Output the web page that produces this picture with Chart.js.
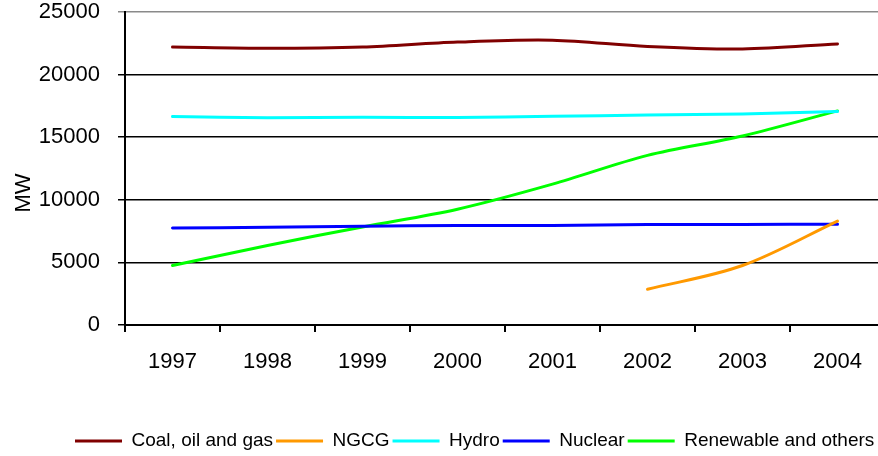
<!DOCTYPE html>
<html>
<head>
<meta charset="utf-8">
<script src="https://cdn.jsdelivr.net/npm/chart.js@4/dist/chart.umd.min.js"></script>
<style>
  html, body { margin: 0; padding: 0; background: #fff; overflow: hidden; }
  #wrap { width: 900px; height: 456px; }
</style>
</head>
<body>
<div id="wrap"><canvas id="c" width="900" height="456"></canvas></div>
<script>
// Installed generating capacity by source, MW
const years = ['1997', '1998', '1999', '2000', '2001', '2002', '2003', '2004'];
const coalOilGas = [22200, 22100, 22200, 22600, 22750, 22250, 22050, 22450];
const ngcg       = [null, null, null, null, null, 2850, 4750, 8300];
const hydro      = [16650, 16560, 16590, 16580, 16670, 16770, 16860, 17050];
const nuclear    = [7750, 7800, 7880, 7950, 7950, 8020, 8030, 8050];
const renewable  = [4750, 6350, 7830, 9250, 11250, 13550, 15100, 17100];
const yMax = 25000;
const yStep = 5000;
const axisTitle = 'MW';

const FONT = '"Liberation Sans", Arial, Helvetica, sans-serif';

function series(label, data, color) {
  return {
    label, data,
    borderColor: color, backgroundColor: color,
    borderWidth: 3, pointRadius: 0, pointHoverRadius: 0,
    tension: 0.33, borderCapStyle: 'round', borderJoinStyle: 'round',
    fill: false, spanGaps: false
  };
}

// Nudges the legend row into place under the plot
const legendPlacement = {
  id: 'legendPlacement',
  afterLayout(chart) {
    const lg = chart.legend;
    if (!lg) return;
    lg.left = 72;
    lg.right = 900;
    lg.top += 4.5;
    lg.bottom += 4.5;
  }
};

new Chart(document.getElementById('c'), {
  type: 'line',
  data: {
    labels: years,
    datasets: [
      series('Coal, oil and gas', coalOilGas, '#800000'),
      series('NGCG', ngcg, '#FF9900'),
      series('Hydro', hydro, '#00FFFF'),
      series('Nuclear', nuclear, '#0000FF'),
      series('Renewable and others', renewable, '#00FF00')
    ]
  },
  plugins: [legendPlacement],
  options: {
    responsive: false,
    animation: false,
    devicePixelRatio: 1,
    events: [],
    layout: { padding: { top: 0, right: 15, bottom: 0, left: 0 } },
    plugins: {
      tooltip: { enabled: false },
      legend: {
        position: 'bottom',
        align: 'start',
        labels: {
          usePointStyle: true,
          pointStyle: 'line',
          pointStyleWidth: 47,
          padding: 3,
          color: '#000',
          font: { family: FONT, size: 19 }
        }
      }
    },
    scales: {
      x: {
        offset: true,
        border: { display: true, color: '#000', width: 2 },
        grid: {
          offset: true,
          drawOnChartArea: false,
          drawTicks: true,
          tickLength: 7,
          color: '#000',
          lineWidth: 2
        },
        ticks: {
          color: '#000',
          padding: 19,
          maxRotation: 0,
          font: { family: FONT, size: 22, lineHeight: 1.0 }
        },
        afterFit(scale) { scale.height = 99; }
      },
      y: {
        min: 0,
        max: yMax,
        border: { display: true, color: '#000', width: 2 },
        grid: {
          drawTicks: true,
          tickLength: 7,
          color: (ctx) => (ctx.tick && ctx.tick.value === yMax ? '#8a8a8a' : '#000'),
          lineWidth: 1.5
        },
        ticks: {
          stepSize: yStep,
          color: '#000',
          padding: 18,
          font: { family: FONT, size: 22, lineHeight: 1.0 },
          callback: (v) => String(v)
        },
        title: {
          display: true,
          text: axisTitle + '        ',
          color: '#000',
          padding: { top: 11, bottom: 0 },
          font: { family: FONT, size: 22 }
        },
        afterFit(scale) {
          scale.width = 125;
          scale.paddingTop = 12;
          scale.paddingBottom = 0;
        }
      }
    }
  }
});
</script>
</body>
</html>
